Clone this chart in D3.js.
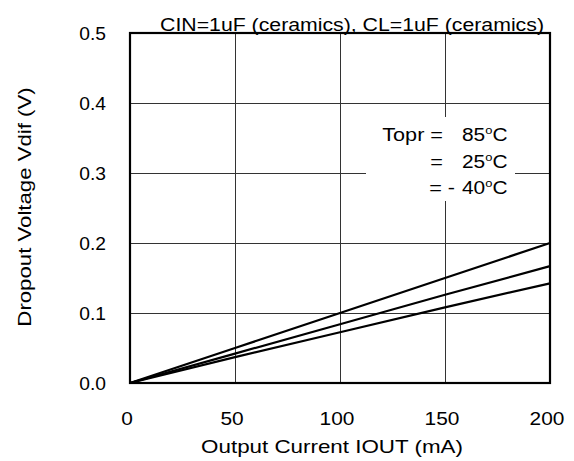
<!DOCTYPE html>
<html>
<head>
<meta charset="utf-8">
<script src="https://cdn.jsdelivr.net/npm/d3@7"></script>
<style>
  html, body { margin: 0; padding: 0; background: #fff; }
  svg { display: block; }
  text { font-family: "Liberation Sans", Arial, sans-serif; fill: #000; }
</style>
</head>
<body>
<svg id="chart" width="574" height="461"></svg>
<script>
// ---- data ----
const currents = [0, 50, 100, 150, 200];           // Output current IOUT (mA)
const vdif85  = [0, 0.050, 0.100, 0.150, 0.200];   // Topr = 85°C
const vdif25  = [0, 0.042, 0.084, 0.126, 0.167];   // Topr = 25°C
const vdifM40 = [0, 0.037, 0.0725, 0.108, 0.1424]; // Topr = -40°C
const xTicks = [0, 50, 100, 150, 200];
const yTicks = [0, 0.1, 0.2, 0.3, 0.4, 0.5];
const titleText = "CIN=1uF (ceramics), CL=1uF (ceramics)";
const xLabel = "Output Current IOUT (mA)";
const yLabel = "Dropout Voltage Vdif (V)";
const legendTemps = ["85", "25", "40"];
const legendPrefix = ["Topr =", "=", "= -"];

// ---- layout ----
const svg = d3.select("#chart");
const L = 130, R = 550, T = 33, B = 383;
const FS = 18.5;

const x = d3.scaleLinear().domain([0, 200]).range([L, R]);
const y = d3.scaleLinear().domain([0, 0.5]).range([B, T]);

// grid
const grid = svg.append("g").attr("stroke", "#333").attr("stroke-width", 1);
grid.selectAll("line.v").data(xTicks.slice(1, -1)).join("line")
  .attr("x1", d => Math.round(x(d)) + 0.5).attr("x2", d => Math.round(x(d)) + 0.5)
  .attr("y1", T).attr("y2", B);
grid.selectAll("line.h").data(yTicks.slice(1, -1)).join("line")
  .attr("y1", d => Math.round(y(d)) + 0.5).attr("y2", d => Math.round(y(d)) + 0.5)
  .attr("x1", L).attr("x2", R);

// legend background box (covers grid)
svg.append("rect").attr("x", 366).attr("y", 117).attr("width", 149).attr("height", 84)
  .attr("fill", "#fff");

// axes (labels only, via d3 axes)
const yAxis = svg.append("g").attr("transform", `translate(${L},0)`)
  .call(d3.axisLeft(y).tickValues(yTicks).tickFormat(d3.format(".1f")).tickSize(0));
yAxis.select(".domain").remove();
yAxis.selectAll("text")
  .attr("x", 0).attr("dy", 0)
  .attr("text-anchor", "end")
  .attr("font-size", FS)
  .attr("transform", `translate(-24,6.5) scale(1.04,1)`);

const xAxis = svg.append("g").attr("transform", `translate(0,${B})`)
  .call(d3.axisBottom(x).tickValues(xTicks).tickFormat(d3.format("d")).tickSize(0));
xAxis.select(".domain").remove();
xAxis.selectAll("text")
  .attr("y", 0).attr("dy", 0)
  .attr("text-anchor", "middle")
  .attr("font-size", FS)
  .attr("transform", `translate(-3.5,41.5) scale(1.13,1)`);

// data lines
const series = [vdif85, vdif25, vdifM40];
const line = d3.line().x((d, i) => x(currents[i])).y(d => y(d));
svg.append("g").selectAll("path").data(series).join("path")
  .attr("d", d => line(d))
  .attr("fill", "none").attr("stroke", "#000").attr("stroke-width", 2.2)
  .attr("stroke-linejoin", "round");

// border
svg.append("rect").attr("x", L).attr("y", T).attr("width", R - L).attr("height", B - T)
  .attr("fill", "none").attr("stroke", "#000").attr("stroke-width", 2.2);

// title
svg.append("text").text(titleText)
  .attr("font-size", FS).attr("text-anchor", "middle")
  .attr("transform", `translate(352,31) scale(1.15,1)`);

// x label
svg.append("text").text(xLabel)
  .attr("font-size", FS).attr("text-anchor", "middle")
  .attr("transform", `translate(332,453) scale(1.21,1)`);

// y label
svg.append("text").text(yLabel)
  .attr("font-size", FS).attr("text-anchor", "middle")
  .attr("transform", `translate(31,207) rotate(-90) scale(1.2,1)`);

// legend
const lg = svg.append("g");
const baselines = [141, 167.5, 194];
legendPrefix.forEach((p, i) => {
  lg.append("text").text(p).attr("font-size", FS).attr("text-anchor", "end")
    .attr("transform", `translate(${i === 2 ? 455 : 443},${baselines[i]}) scale(1.17,1)`);
  const t = lg.append("text").attr("font-size", FS).attr("text-anchor", "end")
    .attr("transform", `translate(507.5,${baselines[i]}) scale(1.13,1)`);
  t.append("tspan").text(legendTemps[i]);
  t.append("tspan").text("o").attr("font-size", FS * 0.62).attr("dy", -7);
  t.append("tspan").text("C").attr("dy", 7);
});
</script>
</body>
</html>
